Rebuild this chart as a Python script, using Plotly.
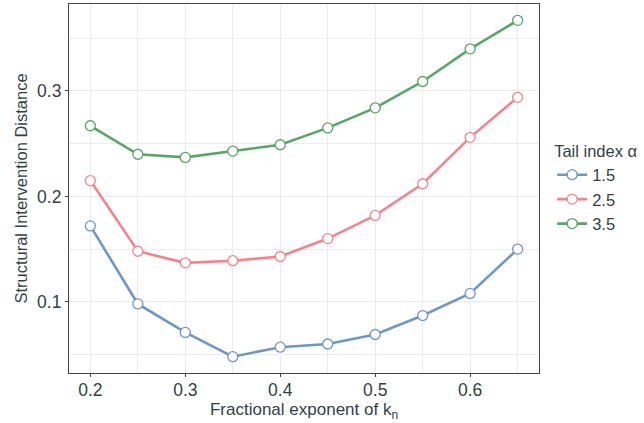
import plotly.graph_objects as go

# fractional exponent values on the x axis
exponent = [0.20, 0.25, 0.30, 0.35, 0.40, 0.45, 0.50, 0.55, 0.60, 0.65]

# structural intervention distance by tail index
sid_15 = [0.172, 0.098, 0.071, 0.048, 0.057, 0.060, 0.069, 0.087, 0.108, 0.150]
sid_25 = [0.215, 0.148, 0.137, 0.139, 0.143, 0.160, 0.182, 0.212, 0.256, 0.294]
sid_35 = [0.267, 0.240, 0.237, 0.243, 0.249, 0.265, 0.284, 0.309, 0.340, 0.367]

series = [("1.5", sid_15, "#7097C4"), ("2.5", sid_25, "#F0858F"), ("3.5", sid_35, "#5AA469")]

font_family = "Liberation Sans, Arial, sans-serif"
text_color = "#333F48"

fig = go.Figure()
for name, vals, color in series:
    fig.add_trace(go.Scatter(
        x=exponent, y=vals, name=name, mode="lines+markers",
        line=dict(color=color, width=2.6),
        marker=dict(size=10, color="white", line=dict(color=color, width=1.3)),
    ))

axis_common = dict(
    showline=True, linecolor="#444444", linewidth=1.2, mirror=True,
    ticks="outside", ticklen=3, tickcolor="#444444", tickwidth=1,
    gridcolor="#EBEBEB", gridwidth=1.2, zeroline=False,
    tickfont=dict(size=17.5, color=text_color, family=font_family),
)

fig.update_xaxes(
    range=[0.1775, 0.6725], tick0=0.2, dtick=0.1, tickformat=".1f",
    ticklabelstandoff=-2,
    minor=dict(dtick=0.05, tick0=0.2, showgrid=True, gridcolor="#EBEBEB", gridwidth=1.2, ticks=""),
    title=dict(text="Fractional exponent of k<sub>n</sub>", standoff=4,
               font=dict(size=17, color=text_color, family=font_family)),
    **axis_common,
)
fig.update_yaxes(
    range=[0.0325, 0.3825], tick0=0.1, dtick=0.1, tickformat=".1f",
    minor=dict(dtick=0.05, tick0=0.0, showgrid=True, gridcolor="#EBEBEB", gridwidth=1.2, ticks=""),
    title=dict(text="Structural Intervention Distance", standoff=5,
               font=dict(size=16.5, color=text_color, family=font_family)),
    **axis_common,
)

fig.update_layout(
    width=644, height=423,
    margin=dict(l=69, r=105, t=4, b=50),
    paper_bgcolor="white", plot_bgcolor="white",
    font=dict(family=font_family, color=text_color),
    legend=dict(
        title=dict(text="Tail index α", font=dict(size=16.5, color=text_color)),
        font=dict(size=16.5, color=text_color),
        x=1.028, xanchor="left", y=0.5, yanchor="middle",
        tracegroupgap=0, itemwidth=30,
    ),
)

fig.write_html("out.html")
